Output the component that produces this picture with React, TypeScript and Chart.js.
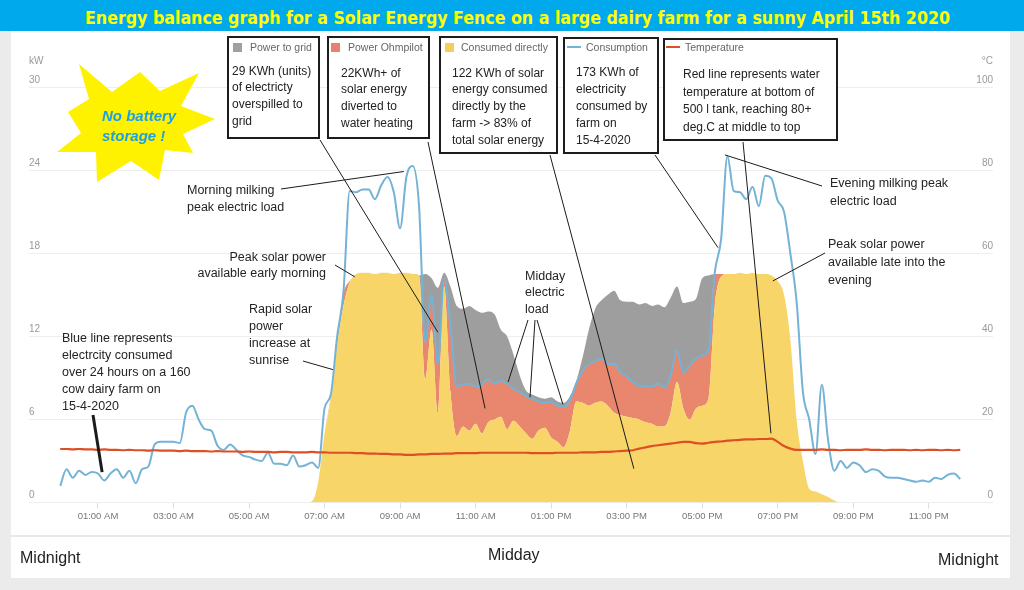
import React, { useEffect, useLayoutEffect, useRef } from 'react';
import { Chart, registerables } from 'chart.js';

Chart.register(...registerables);

const FONT = '"Liberation Sans", Arial, sans-serif';
const STEP_HOURS = 1 / 6; // 10-minute samples

// ---- DATA (kW, 10-minute samples from 00:00) ----
const consumption = [
  1.2, 2.4, 1.8, 2.3, 2.0, 2.2, 2.1, 1.6, 2.1, 2.4,
  1.8, 2.3, 1.4, 2.4, 2.6, 4.2, 4.4, 4.4, 4.4, 4.3,
  6.5, 7.0, 6.0, 5.3, 5.2, 4.1, 3.8, 4.2, 3.8, 3.4,
  3.3, 3.1, 3.0, 3.6, 2.8, 2.8, 2.7, 3.4, 2.6, 2.7,
  2.9, 2.5, 6.8, 7.8, 12.0, 15.2, 22.5, 22.4, 22.6, 22.6,
  21.9, 22.9, 23.5, 22.4, 19.8, 23.5, 24.3, 21.5, 11.6, 15.0,
  10.0, 16.2, 12.8, 8.4, 8.5, 8.6, 8.4, 8.5, 8.9, 8.6,
  8.8, 8.6, 8.2, 8.0, 7.7, 7.5, 7.3, 7.2, 7.3, 7.0,
  6.9, 7.4, 8.6, 9.5, 10.0, 10.2, 10.4, 10.0, 10.0, 9.4,
  9.1, 8.7, 8.4, 8.4, 8.4, 8.6, 8.3, 9.2, 11.0, 9.4,
  9.9, 10.4, 10.6, 11.0, 16.6, 19.0, 25.0, 22.5, 22.4, 21.9,
  22.8, 21.4, 23.6, 23.4, 21.8, 21.0, 18.0, 14.5, 8.0, 6.0,
  3.5, 8.5, 4.5, 2.3, 3.0, 2.5, 2.9, 2.7, 2.2, 2.4,
  2.3, 1.9, 1.8, 1.8, 1.7, 1.6, 1.5, 1.6, 1.5, 1.8,
  1.7, 2.0, 2.1, 1.7,
];

const consumedDirectly = [
  0, 0, 0, 0, 0, 0, 0, 0, 0, 0,
  0, 0, 0, 0, 0, 0, 0, 0, 0, 0,
  0, 0, 0, 0, 0, 0, 0, 0, 0, 0,
  0, 0, 0, 0, 0, 0, 0, 0, 0, 0,
  0.1, 1.5, 5.0, 7.5, 11.4, 14.2, 15.9, 16.5, 16.6, 16.6,
  16.5, 16.6, 16.6, 16.5, 16.6, 16.6, 16.5, 16.4, 8.9, 12.5,
  6.5, 15.6, 8.0, 4.8, 5.5, 5.2, 5.7, 5.0, 5.8, 6.0,
  6.2, 5.3, 5.9, 5.5, 5.0, 4.6, 5.2, 5.4, 4.7, 4.4,
  4.0, 5.2, 7.3, 7.2, 7.0, 7.2, 7.3, 7.0, 6.5, 6.3,
  6.2, 6.1, 6.0, 5.8, 5.7, 5.5, 5.5, 6.5, 8.7, 6.8,
  6.0, 6.8, 7.0, 7.5, 14.2, 16.3, 16.5, 16.5, 16.6, 16.5,
  16.6, 16.5, 16.5, 16.4, 16.0, 15.0, 11.8, 6.0, 3.0, 1.0,
  0.8, 0.6, 0.4, 0.15, 0, 0, 0, 0, 0, 0,
  0, 0, 0, 0, 0, 0, 0, 0, 0, 0,
  0, 0, 0, 0,
];

const powerOhmpilot = [
  0, 0, 0, 0, 0, 0, 0, 0, 0, 0,
  0, 0, 0, 0, 0, 0, 0, 0, 0, 0,
  0, 0, 0, 0, 0, 0, 0, 0, 0, 0,
  0, 0, 0, 0, 0, 0, 0, 0, 0, 0,
  0, 0, 0, 0.2, 0.5, 0.9, 0.1, 0, 0, 0,
  0, 0, 0, 0, 0, 0, 0, 0, 2.7, 2.5,
  3.5, 0.6, 4.8, 3.6, 3.0, 3.4, 2.7, 3.5, 3.1, 2.6,
  2.6, 3.3, 2.3, 2.5, 2.7, 2.9, 2.1, 1.8, 2.6, 2.6,
  2.9, 2.2, 1.3, 2.3, 3.0, 3.0, 3.1, 3.0, 3.5, 3.1,
  2.9, 2.6, 2.4, 2.6, 2.7, 3.1, 2.8, 2.7, 2.3, 2.6,
  3.9, 3.6, 3.6, 3.5, 2.3, 0.2, 0, 0, 0, 0,
  0, 0, 0, 0, 0, 0, 0, 0, 0, 0,
  0, 0, 0, 0, 0, 0, 0, 0, 0, 0,
  0, 0, 0, 0, 0, 0, 0, 0, 0, 0,
  0, 0, 0, 0,
];

const powerToGrid = [
  0, 0, 0, 0, 0, 0, 0, 0, 0, 0,
  0, 0, 0, 0, 0, 0, 0, 0, 0, 0,
  0, 0, 0, 0, 0, 0, 0, 0, 0, 0,
  0, 0, 0, 0, 0, 0, 0, 0, 0, 0,
  0, 0, 0, 0, 0, 0, 0, 0, 0, 0,
  0, 0, 0, 0, 0, 0, 0, 0, 4.9, 1.2,
  5.5, 0.4, 2.8, 5.8, 5.5, 5.6, 5.5, 5.2, 4.9, 5.0,
  3.7, 3.4, 2.5, 1.2, 0.4, 0.3, 0.3, 0.3, 0.3, 0.3,
  0.3, 0.3, 0.2, 1.0, 2.5, 3.8, 4.2, 5.0, 5.3, 5.2,
  5.4, 5.8, 5.9, 6.0, 5.8, 5.7, 5.8, 5.6, 4.6, 5.0,
  4.6, 4.3, 5.6, 5.4, 0, 0, 0, 0, 0, 0,
  0, 0, 0, 0, 0, 0, 0, 0, 0, 0,
  0, 0, 0, 0, 0, 0, 0, 0, 0, 0,
  0, 0, 0, 0, 0, 0, 0, 0, 0, 0,
  0, 0, 0, 0,
];

// °C, water temperature at bottom of tank
const temperature = [
  12.9, 12.9, 12.8, 12.9, 12.8, 12.8, 12.7, 12.8, 12.7, 12.7,
  12.6, 12.7, 12.6, 12.6, 12.5, 12.6, 12.5, 12.5, 12.5, 12.4,
  12.5, 12.4, 12.4, 12.4, 12.3, 12.4, 12.3, 12.3, 12.3, 12.2,
  12.3, 12.2, 12.2, 12.2, 12.1, 12.2, 12.2, 12.1, 12.1, 12.1,
  12.2, 12.1, 12.1, 12.0, 12.0, 12.0, 12.0, 11.9, 11.9, 11.8,
  11.8, 11.7, 11.7, 11.6, 11.6, 11.5, 11.5, 11.6, 11.6, 11.7,
  11.7, 11.8, 11.8, 11.9, 11.9, 11.9, 11.9, 12.0, 12.0, 12.0,
  12.0, 12.0, 12.0, 12.0, 12.0, 11.9, 11.9, 11.9, 11.9, 12.0,
  12.0, 12.0, 12.0, 12.1, 12.1, 12.1, 12.2, 12.2, 12.3, 12.4,
  12.5, 12.6, 13.0, 13.3, 13.6, 13.8, 14.0, 14.2, 14.4, 14.6,
  14.6, 14.3, 14.2, 14.4, 14.6, 14.7, 14.9, 15.0, 15.1, 15.2,
  15.2, 15.3, 15.3, 15.4, 14.6, 13.6, 13.0, 12.7, 12.7, 12.7,
  12.7, 12.8, 12.7, 12.7, 12.6, 12.7, 12.7, 12.7, 12.8, 12.7,
  12.7, 12.6, 12.7, 12.7, 12.7, 12.6, 12.7, 12.6, 12.7, 12.7,
  12.6, 12.7, 12.6, 12.7,
];

const seriesNames = ['Power to grid', 'Power Ohmpilot', 'Consumed directly', 'Consumption', 'Temperature'];
const tickHours = [1, 3, 5, 7, 9, 11, 13, 15, 17, 19, 21, 23];
const tickLabels = ['01:00 AM', '03:00 AM', '05:00 AM', '07:00 AM', '09:00 AM', '11:00 AM',
  '01:00 PM', '03:00 PM', '05:00 PM', '07:00 PM', '09:00 PM', '11:00 PM'];

// ---- LAYOUT / STYLE ----
const COLORS = {
  grid: '#9e9e9e',
  ohm: '#e8876e',
  direct: '#f8d568',
  cons: '#74b3d6',
  temp: '#dd4f24',
};

// pointer lines: start in page pixels, end at (hour, kW) through the scales
const pointers = [
  { from: [281, 189], hour: 9.10, kw: 23.9, width: 1 },
  { from: [335, 265], hour: 7.80, kw: 16.3, width: 1 },
  { from: [303, 361], hour: 7.22, kw: 9.6, width: 1 },
  { from: [93, 415], hour: 1.11, kw: 2.2, width: 3 },
  { from: [528, 320], hour: 11.86, kw: 8.7, width: 1 },
  { from: [535, 320], hour: 12.44, kw: 7.6, width: 1 },
  { from: [537, 320], hour: 13.31, kw: 7.1, width: 1 },
  { from: [822, 186], hour: 17.60, kw: 25.1, width: 1 },
  { from: [825, 253], hour: 18.87, kw: 16.0, width: 1 },
  { from: [320, 140], hour: 10.00, kw: 12.3, width: 1 },
  { from: [428, 142], hour: 11.25, kw: 6.8, width: 1 },
  { from: [550, 155], hour: 15.19, kw: 2.45, width: 1 },
  { from: [655, 155], hour: 17.42, kw: 18.4, width: 1 },
  { from: [743, 142], hour: 18.82, kw: 5.0, width: 1 },
];

const boxes = [
  { left: 227, top: 36, width: 93, height: 103, textX: 232, firstY: 71, lh: 16.7,
    lines: ['29 KWh (units)', 'of electricty', 'overspilled to', 'grid'] },
  { left: 327, top: 36, width: 103, height: 103, textX: 341, firstY: 73, lh: 16.7,
    lines: ['22KWh+ of', 'solar energy', 'diverted to', 'water heating'] },
  { left: 439, top: 36, width: 119, height: 118, textX: 452, firstY: 73, lh: 16.9,
    lines: ['122 KWh of solar', 'energy consumed', 'directly by the', 'farm -> 83% of', 'total solar energy'] },
  { left: 563, top: 37, width: 96, height: 117, textX: 576, firstY: 72, lh: 17,
    lines: ['173 KWh of', 'electricity', 'consumed by', 'farm on', '15-4-2020'] },
  { left: 663, top: 38, width: 175, height: 103, textX: 683, firstY: 75, lh: 17.5,
    lines: ['Red line represents water', 'temperature at bottom of', '500 l tank, reaching 80+', 'deg.C at middle to top'] },
];

const legendItems = [
  { kind: 'square', color: '#a0a0a0', x: 233, textX: 250, name: seriesNames[0] },
  { kind: 'square', color: '#e8836b', x: 331, textX: 348, name: seriesNames[1] },
  { kind: 'square', color: '#f6cf52', x: 445, textX: 461, name: seriesNames[2] },
  { kind: 'line', color: COLORS.cons, x: 567, textX: 586, name: seriesNames[3] },
  { kind: 'line', color: COLORS.temp, x: 666, textX: 685, name: seriesNames[4] },
];

const notes = [
  { x: 187, firstY: 190, lh: 17, align: 'left', lines: ['Morning milking', 'peak electric load'] },
  { x: 326, firstY: 258, lh: 15.5, align: 'right', lines: ['Peak solar power', 'available early morning'] },
  { x: 249, firstY: 309, lh: 17, align: 'left', lines: ['Rapid solar', 'power', 'increase at', 'sunrise'] },
  { x: 62, firstY: 338, lh: 17, align: 'left', lines: ['Blue line represents', 'electrcity consumed', 'over 24 hours on a 160', 'cow dairy farm on', '15-4-2020'] },
  { x: 525, firstY: 276, lh: 16.7, align: 'left', lines: ['Midday', 'electric', 'load'] },
  { x: 830, firstY: 183, lh: 18, align: 'left', lines: ['Evening milking peak', 'electric load'] },
  { x: 828, firstY: 244, lh: 18, align: 'left', lines: ['Peak solar power', 'available late into the', 'evening'] },
];

const starPoints = [
  [79, 64], [112, 92], [140, 72], [160, 91], [199, 73], [181, 106], [215, 119], [183, 134],
  [193, 153], [165, 150], [159, 180], [131, 161], [97, 182], [96, 152], [57, 152], [81, 133],
  [68, 112], [89, 99],
];

const times = consumption.map((_, i) => i * STEP_HOURS);
const toPoints = (arr: number[]) => arr.map((v, i) => ({ x: times[i], y: v }));

const pointerPlugin = {
  id: 'pointerLines',
  afterDatasetsDraw(chart: any) {
    const { ctx } = chart;
    const xs = chart.scales.x;
    const ys = chart.scales.y;
    ctx.save();
    ctx.strokeStyle = '#1b1b1b';
    pointers.forEach((p) => {
      ctx.beginPath();
      ctx.lineWidth = p.width;
      ctx.moveTo(p.from[0], p.from[1]);
      ctx.lineTo(xs.getPixelForValue(p.hour), ys.getPixelForValue(p.kw));
      ctx.stroke();
    });
    ctx.restore();
  },
};

function TextLines({ x, firstY, lh, lines, align, size, color }: any) {
  return (
    <>
      {lines.map((t: string, i: number) => (
        <div
          key={i}
          style={{
            position: 'absolute',
            top: firstY + i * lh - lh / 2,
            height: lh,
            lineHeight: lh + 'px',
            fontSize: size,
            color,
            whiteSpace: 'nowrap',
            ...(align === 'right' ? { right: 1024 - x, textAlign: 'right' } : { left: x }),
          }}
        >
          {t}
        </div>
      ))}
    </>
  );
}

export default function App() {
  const canvasRef = useRef<HTMLCanvasElement>(null);
  const titleRef = useRef<HTMLSpanElement>(null);

  useLayoutEffect(() => {
    const el = titleRef.current;
    if (!el) return;
    const w = el.getBoundingClientRect().width;
    if (w > 0) el.style.transform = `scaleX(${865 / w})`;
  }, []);

  useEffect(() => {
    if (!canvasRef.current) return;
    const chart = new Chart(canvasRef.current, {
      type: 'line',
      data: {
        datasets: [
          {
            label: seriesNames[4], data: toPoints(temperature), yAxisID: 'y1',
            borderColor: COLORS.temp, borderWidth: 2.2, pointRadius: 0, cubicInterpolationMode: 'monotone', fill: false,
          },
          {
            label: seriesNames[3], data: toPoints(consumption), yAxisID: 'y', stack: 'cons',
            borderColor: COLORS.cons, borderWidth: 2, pointRadius: 0, cubicInterpolationMode: 'monotone', fill: false,
          },
          {
            label: seriesNames[2], data: toPoints(consumedDirectly), yAxisID: 'y', stack: 'solar',
            backgroundColor: COLORS.direct, borderWidth: 0, pointRadius: 0, cubicInterpolationMode: 'monotone', fill: 'origin',
          },
          {
            label: seriesNames[1], data: toPoints(powerOhmpilot), yAxisID: 'y', stack: 'solar',
            backgroundColor: COLORS.ohm, borderWidth: 0, pointRadius: 0, cubicInterpolationMode: 'monotone', fill: '-1',
          },
          {
            label: seriesNames[0], data: toPoints(powerToGrid), yAxisID: 'y', stack: 'solar',
            backgroundColor: COLORS.grid, borderWidth: 0, pointRadius: 0, cubicInterpolationMode: 'monotone', fill: '-1',
          },
        ] as any,
      },
      options: {
        responsive: false,
        animation: false,
        layout: { padding: { left: 29, right: 31, top: 87, bottom: 66 } },
        plugins: { legend: { display: false }, tooltip: { enabled: false }, title: { display: false } },
        scales: {
          x: {
            type: 'linear',
            min: -0.826,
            max: 24.7,
            afterBuildTicks: (s: any) => { s.ticks = tickHours.map((v) => ({ value: v })); },
            ticks: {
              autoSkip: false, maxRotation: 0, padding: 2, color: '#777',
              font: { size: 9.5, family: FONT },
              callback: (v: any) => { const k = tickHours.indexOf(Number(v)); return k >= 0 ? tickLabels[k] : ''; },
            },
            grid: { drawOnChartArea: false, drawTicks: true, tickLength: 6, color: '#dddddd' },
            border: { display: false },
          },
          y: {
            position: 'left', stacked: true, min: 0, max: 30,
            ticks: { stepSize: 6, mirror: true, padding: 0, labelOffset: -7, color: '#999', font: { size: 10, family: FONT } },
            grid: { color: '#eeeeee', drawTicks: false },
            border: { display: false },
          },
          y1: {
            position: 'right', min: 0, max: 100,
            ticks: { stepSize: 20, mirror: true, padding: 0, labelOffset: -7, color: '#999', font: { size: 10, family: FONT } },
            grid: { drawOnChartArea: false, drawTicks: false },
            border: { display: false },
          },
        },
      } as any,
      plugins: [pointerPlugin],
    });
    return () => chart.destroy();
  }, []);

  return (
    <div style={{ position: 'absolute', left: 0, top: 0, width: 1024, height: 590, background: '#ebebeb', overflow: 'hidden', fontFamily: FONT }}>
      <div style={{ position: 'absolute', left: 0, top: 0, width: 1024, height: 31, background: '#00a8ec' }} />
      <span
        ref={titleRef}
        style={{
          position: 'absolute', left: 85, top: 9, lineHeight: '18px', fontSize: 17, fontWeight: 'bold',
          fontFamily: '"DejaVu Sans Condensed", "DejaVu Sans", sans-serif', color: '#ffff00',
          whiteSpace: 'nowrap', transformOrigin: '0 50%', display: 'inline-block',
        }}
      >
        Energy balance graph for a Solar Energy Fence on a large dairy farm for a sunny April 15th 2020
      </span>
      <div style={{ position: 'absolute', left: 11, top: 31, width: 999, height: 547, background: '#ffffff' }} />
      <div style={{ position: 'absolute', left: 11, top: 535, width: 999, height: 2, background: '#e8e8e8' }} />

      <canvas ref={canvasRef} width={1024} height={590} style={{ position: 'absolute', left: 0, top: 0, width: 1024, height: 590 }} />

      <div style={{ position: 'absolute', left: 29, top: 54, fontSize: 10, color: '#999', lineHeight: '14px' }}>kW</div>
      <div style={{ position: 'absolute', right: 1024 - 993, top: 54, fontSize: 10, color: '#999', lineHeight: '14px' }}>°C</div>

      <svg width={1024} height={590} style={{ position: 'absolute', left: 0, top: 0, pointerEvents: 'none' }}>
        <polygon points={starPoints.map((p) => p.join(',')).join(' ')} fill="#fff200" />
      </svg>
      <div style={{ position: 'absolute', left: 102, top: 106, fontSize: 15, fontWeight: 'bold', fontStyle: 'italic', color: '#1ba1e2', lineHeight: '20px', whiteSpace: 'nowrap' }}>
        No battery<br />storage !
      </div>

      {boxes.map((b, i) => (
        <div key={'b' + i} style={{ position: 'absolute', left: b.left, top: b.top, width: b.width, height: b.height, border: '2px solid #1c1c1c', background: '#fff', boxSizing: 'border-box' }} />
      ))}
      {legendItems.map((l, i) => (
        <React.Fragment key={'l' + i}>
          {l.kind === 'square' ? (
            <div style={{ position: 'absolute', left: l.x, top: 42.5, width: 9, height: 9, background: l.color }} />
          ) : (
            <div style={{ position: 'absolute', left: l.x, top: 46, width: 14, height: 2, background: l.color }} />
          )}
          <div style={{ position: 'absolute', left: l.textX, top: 40, lineHeight: '14px', fontSize: 10.5, color: '#666', whiteSpace: 'nowrap' }}>{l.name}</div>
        </React.Fragment>
      ))}
      {boxes.map((b, i) => (
        <TextLines key={'bt' + i} x={b.textX} firstY={b.firstY} lh={b.lh} lines={b.lines} align="left" size={12} color="#222" />
      ))}
      {notes.map((n, i) => (
        <TextLines key={'n' + i} x={n.x} firstY={n.firstY} lh={n.lh} lines={n.lines} align={n.align} size={12.5} color="#252423" />
      ))}

      <div style={{ position: 'absolute', left: 20, top: 548, fontSize: 16, color: '#222', lineHeight: '20px' }}>Midnight</div>
      <div style={{ position: 'absolute', left: 488, top: 545, fontSize: 16, color: '#222', lineHeight: '20px' }}>Midday</div>
      <div style={{ position: 'absolute', left: 938, top: 550, fontSize: 16, color: '#222', lineHeight: '20px' }}>Midnight</div>
    </div>
  );
}
